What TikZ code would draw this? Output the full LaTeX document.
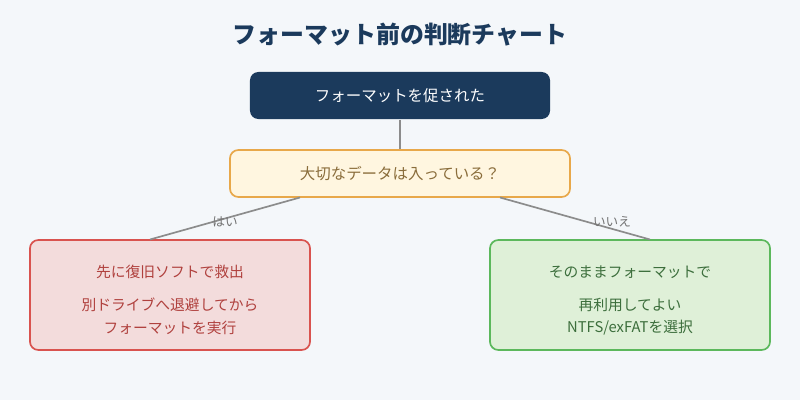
\documentclass[tikz,border=0pt]{standalone}
\usepackage{fontspec}
\setmainfont{Noto Sans CJK JP}
\usetikzlibrary{positioning}
\definecolor{bgcol}{HTML}{F4F7FA}
\definecolor{navy}{HTML}{1B3A5C}
\definecolor{qfill}{HTML}{FFF6E0}
\definecolor{qdraw}{HTML}{E8A84A}
\definecolor{qtext}{HTML}{8A6D3B}
\definecolor{rfill}{HTML}{F3DCDC}
\definecolor{rdraw}{HTML}{D9534F}
\definecolor{rtext}{HTML}{B0413E}
\definecolor{gfill}{HTML}{DFF0D8}
\definecolor{gdraw}{HTML}{5CB85C}
\definecolor{gtext}{HTML}{3C6E3C}
\tikzset{
  box/.style = {rectangle, rounded corners=6pt, line width=1.2pt, inner sep=0pt},
  start/.style = {box, fill=navy, text=white, minimum width=7.5cm, minimum height=1.175cm, font=\fontsize{11}{13}\selectfont},
  question/.style = {box, fill=qfill, draw=qdraw, text=qtext, minimum width=8.5cm, minimum height=1.175cm, font=\fontsize{11}{13}\selectfont},
  answer/.style = {box, minimum width=7cm, minimum height=2.75cm},
  line/.style = {draw=gray!90, line width=1.2pt},
  lbl/.style = {text=gray!90!black, font=\fontsize{9}{11}\selectfont},
  txt/.style = {font=\fontsize{10.5}{12}\selectfont}
}
\begin{document}
\begin{tikzpicture}[x=0.025cm, y=-0.025cm]
    \fill [bgcol] (0,0) rectangle (800,400);
    \node [text=navy, font=\bfseries\fontsize{17}{20}\selectfont] at (400,35) (title) {フォーマット前の判断チャート};
    \node [start] at (400,95.5) (start) {フォーマットを促された};
    \node [question] at (400,173.5) (ask) {大切なデータは入っている？};
    \node [answer, fill=rfill, draw=rdraw] at (170,295) (yes) {};
    \node [answer, fill=gfill, draw=gdraw] at (630,295) (no) {};
    % texts in the answer boxes
    \node [txt, text=rtext] at (170,272) (yes1) {先に復旧ソフトで救出};
    \node [txt, text=rtext] at (170,305) (yes2) {別ドライブへ退避してから};
    \node [txt, text=rtext] at (170,328) (yes3) {フォーマットを実行};
    \node [txt, text=gtext] at (630,272) (no1) {そのままフォーマットで};
    \node [txt, text=gtext] at (630,305) (no2) {再利用してよい};
    \node [txt, text=gtext] at (630,328) (no3) {NTFS/exFATを選択};
    % connectors
    \coordinate (askL) at (300,197.5);
    \coordinate (askR) at (500,197.5);
    \coordinate (yesT) at (150,239.5);
    \coordinate (noT) at (650,239.5);
    \draw [line] (start) -- (ask);
    \draw [line] (askL) -- (yesT);
    \draw [line] (askR) -- (noT);
    \node [lbl] at (225,222) (lyes) {はい};
    \node [lbl] at (612,222) (lno) {いいえ};
\end{tikzpicture}
\end{document}
